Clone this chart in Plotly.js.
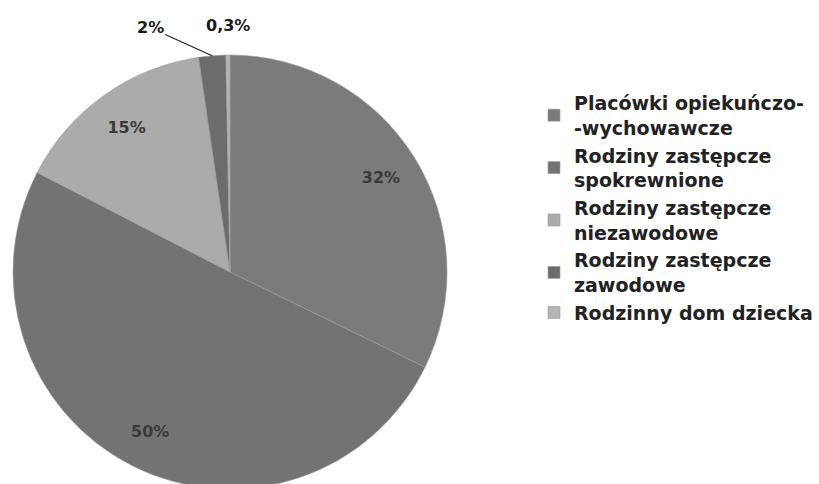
<!DOCTYPE html>
<html>
<head>
<meta charset="utf-8">
<script src="https://cdn.plot.ly/plotly-3.0.1.min.js"></script>
<style>
html,body{margin:0;padding:0;overflow:hidden;background:#fff;}
#chart{width:819px;height:500px;}
</style>
</head>
<body>
<div id="chart"></div>
<script>
var categories = [
  "Placówki opiekuńczo-<br>-wychowawcze",
  "Rodziny zastępcze<br>spokrewnione",
  "Rodziny zastępcze<br>niezawodowe",
  "Rodziny zastępcze<br>zawodowe",
  "Rodzinny dom dziecka"
];
var values = [32, 50, 15, 2, 0.3];
var valueLabels = ["32%", "50%", "15%", "2%", "0,3%"];
var sliceColors = ["#7b7b7b", "#737373", "#ababab", "#6c6c6c", "#b4b4b4"];

var W = 819, H = 500;
var domain = {x: [0.0159, 0.5458], y: [0.022, 0.89]};

var basePie = {
  type: "pie",
  labels: categories,
  values: values,
  sort: false,
  direction: "clockwise",
  rotation: 0,
  domain: domain,
  marker: {colors: sliceColors, line: {color: "#9a9a9a", width: 0.6}},
  textinfo: "none",
  hoverinfo: "label+percent",
  showlegend: true
};

var labelRing = {
  type: "pie",
  labels: categories,
  values: values,
  sort: false,
  direction: "clockwise",
  rotation: 0,
  domain: domain,
  hole: 0.64,
  marker: {colors: ["rgba(0,0,0,0)","rgba(0,0,0,0)","rgba(0,0,0,0)","rgba(0,0,0,0)","rgba(0,0,0,0)"], line: {width: 0}},
  text: valueLabels,
  textinfo: "text",
  textposition: ["inside", "inside", "inside", "none", "none"],
  insidetextorientation: "horizontal",
  insidetextfont: {family: "DejaVu Sans", size: 16, color: "#3a3a3a", weight: "bold"},
  hoverinfo: "skip",
  showlegend: false
};

// geometry of the pie (derived from its domain) to anchor the small-slice labels
var cxP = (domain.x[0] + domain.x[1]) / 2;
var cyP = (domain.y[0] + domain.y[1]) / 2;
var rPx = Math.min((domain.x[1] - domain.x[0]) * W, (domain.y[1] - domain.y[0]) * H) / 2;
var total = values.reduce(function(a, b) { return a + b; }, 0);
function edgePoint(i) {
  var before = 0;
  for (var k = 0; k < i; k++) before += values[k];
  var mid = (before + values[i] / 2) / total * 2 * Math.PI;
  return {x: cxP + rPx * Math.sin(mid) / W, y: cyP + rPx * Math.cos(mid) / H};
}
var p2 = edgePoint(3);
var p03 = edgePoint(4);

var layout = {
  width: W,
  height: H,
  margin: {l: 0, r: 0, t: 0, b: 0},
  paper_bgcolor: "#ffffff",
  showlegend: true,
  legend: {
    x: 0.652, xanchor: "left",
    y: 0.832, yanchor: "top",
    font: {family: "DejaVu Sans", size: 19, color: "#222222", weight: "bold"},
    bgcolor: "rgba(0,0,0,0)"
  },
  annotations: [
    {
      xref: "paper", yref: "paper", x: p2.x, y: p2.y,
      text: valueLabels[3], showarrow: true, arrowhead: 0, arrowwidth: 1.2, arrowcolor: "#222",
      ax: -62, ay: -28, standoff: 0,
      font: {family: "DejaVu Sans", size: 16, color: "#1a1a1a", weight: "bold"}
    },
    {
      xref: "paper", yref: "paper", x: p03.x, y: p03.y,
      text: valueLabels[4], showarrow: false, yanchor: "bottom", xanchor: "center",
      yshift: 18,
      font: {family: "DejaVu Sans", size: 16, color: "#1a1a1a", weight: "bold"}
    }
  ]
};

Plotly.newPlot("chart", [basePie, labelRing], layout, {displayModeBar: false, staticPlot: true});
</script>
</body>
</html>
